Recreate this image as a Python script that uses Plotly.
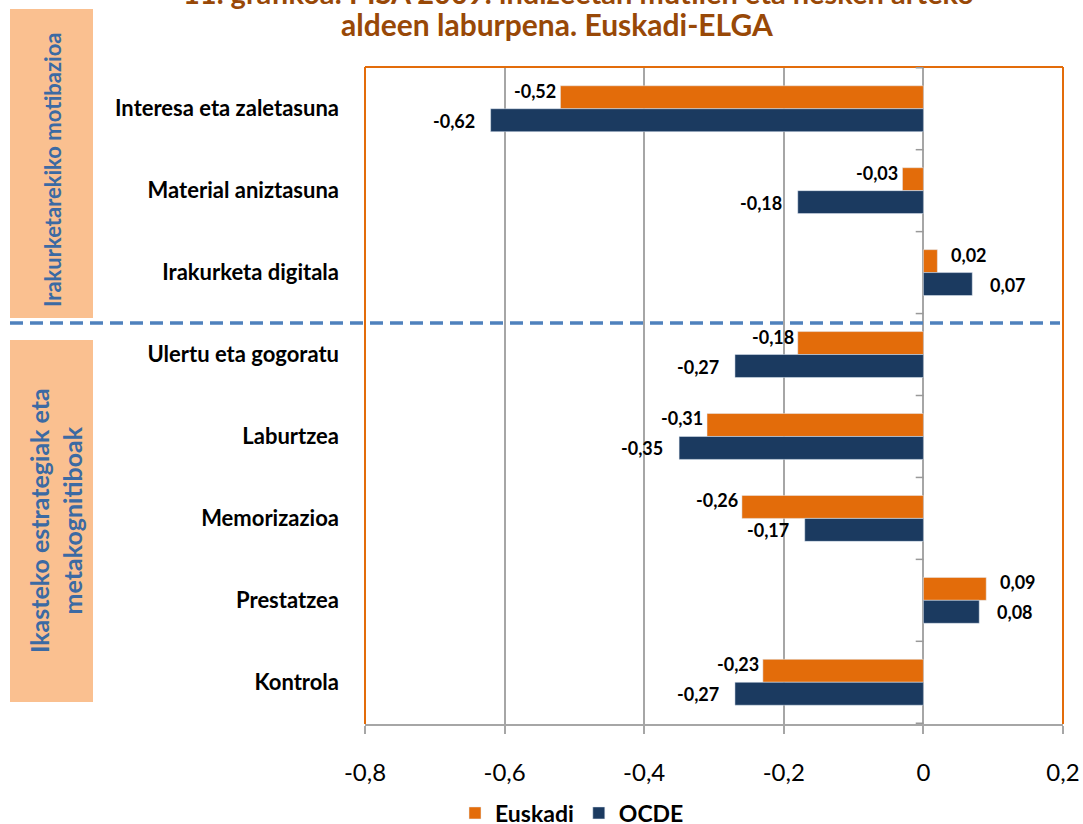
import plotly.graph_objects as go

categories = ["Interesa eta zaletasuna", "Material aniztasuna", "Irakurketa digitala",
              "Ulertu eta gogoratu", "Laburtzea", "Memorizazioa", "Prestatzea", "Kontrola"]
euskadi = [-0.52, -0.03, 0.02, -0.18, -0.31, -0.26, 0.09, -0.23]
ocde = [-0.62, -0.18, 0.07, -0.27, -0.35, -0.17, 0.08, -0.27]
x_tickvals = [-0.8, -0.6, -0.4, -0.2, 0, 0.2]
x_ticktext = ["-0,8", "-0,6", "-0,4", "-0,2", "0", "0,2"]
group_labels = ["Irakurketarekiko motibazioa", "Ikasteko estrategiak eta<br>metakognitiboak"]
title_line1 = "11. grafikoa: PISA 2009: indizeetan mutilen eta nesken arteko"
title_line2 = "aldeen laburpena. Euskadi-ELGA"

ORANGE = "#E36C0A"
NAVY = "#1B3A60"
FONT = "Lato"

W, H = 1083, 824
L, T, PW, PH = 365, 67, 698, 657


def px_x(p):
    return (p - L) / PW


def px_y(p):
    return (T + PH - p) / PH


fig = go.Figure()
fig.add_trace(go.Bar(y=categories, x=euskadi, orientation="h", name="<b>Euskadi</b>",
                     marker=dict(color=ORANGE)))
fig.add_trace(go.Bar(y=categories, x=ocde, orientation="h", name="<b>OCDE</b>",
                     marker=dict(color=NAVY)))


def fmt(v):
    return ("%.2f" % v).replace(".", ",")


annotations = []
for cat, v in zip(categories, euskadi):
    annotations.append(dict(x=v, y=cat, xref="x", yref="y", text="<b>%s</b>" % fmt(v),
                            showarrow=False, xanchor="right" if v < 0 else "left",
                            xshift=-2 if v < 0 else 12, yshift=18,
                            font=dict(family=FONT, size=18, color="black")))
for cat, v in zip(categories, ocde):
    annotations.append(dict(x=v, y=cat, xref="x", yref="y", text="<b>%s</b>" % fmt(v),
                            showarrow=False, xanchor="right" if v < 0 else "left",
                            xshift=-14 if v < 0 else 16, yshift=-12,
                            font=dict(family=FONT, size=18, color="black")))

# title (first line partly cut off at the top, as in the reference)
annotations.append(dict(x=px_x(578), y=px_y(-8), xref="paper", yref="paper", text="<b>%s</b>" % title_line1,
                        showarrow=False, xanchor="center", yanchor="middle",
                        font=dict(family=FONT, size=29, color="#984807")))
annotations.append(dict(x=px_x(557), y=px_y(24), xref="paper", yref="paper", text="<b>%s</b>" % title_line2,
                        showarrow=False, xanchor="center", yanchor="middle",
                        font=dict(family=FONT, size=30, color="#984807")))

# group labels in the left boxes
annotations.append(dict(x=px_x(52), y=px_y(170), xref="paper", yref="paper",
                        xanchor="center", yanchor="middle",
                        text="<b>%s</b>" % group_labels[0], showarrow=False, textangle=-90,
                        font=dict(family=FONT, size=22, color="#3C6AA3")))
annotations.append(dict(x=px_x(55), y=px_y(521), xref="paper", yref="paper",
                        xanchor="center", yanchor="middle",
                        text="<b>%s</b>" % group_labels[1], showarrow=False, textangle=-90,
                        font=dict(family=FONT, size=25, color="#3C6AA3")))

shapes = [
    # left boxes
    dict(type="rect", xref="paper", yref="paper", x0=px_x(10), x1=px_x(93), y0=px_y(318), y1=px_y(9),
         fillcolor="#FAC090", line=dict(width=0), layer="below"),
    dict(type="rect", xref="paper", yref="paper", x0=px_x(10), x1=px_x(93), y0=px_y(702), y1=px_y(340),
         fillcolor="#FAC090", line=dict(width=0), layer="below"),
    # plot border (left, top, right)
    dict(type="line", xref="paper", yref="paper", x0=0, x1=0, y0=0, y1=1, line=dict(color=ORANGE, width=2)),
    dict(type="line", xref="paper", yref="paper", x0=0, x1=1, y0=1, y1=1, line=dict(color=ORANGE, width=2)),
    dict(type="line", xref="paper", yref="paper", x0=1, x1=1, y0=0, y1=1, line=dict(color=ORANGE, width=2)),
    # dashed separator
    dict(type="line", xref="paper", yref="paper", x0=px_x(10), x1=px_x(1060), y0=px_y(323), y1=px_y(323),
         line=dict(color="#4F81BD", width=3.5, dash="13px,7px")),
]
# small category tick marks at the zero axis
for i in range(len(categories) + 1):
    shapes.append(dict(type="line", xref="x", yref="y", x0=-0.011, x1=0, y0=i - 0.5, y1=i - 0.5,
                       line=dict(color="#999999", width=1.5)))

fig.update_layout(
    width=W, height=H,
    margin=dict(l=L, r=W - L - PW, t=T, b=H - T - PH, autoexpand=False),
    plot_bgcolor="white", paper_bgcolor="white",
    barmode="group", bargap=0.44, bargroupgap=0,
    showlegend=True,
    legend=dict(orientation="h", x=px_x(572), y=px_y(813), xanchor="center", yanchor="middle",
                font=dict(family=FONT, size=23, color="black"), traceorder="normal",
                itemwidth=30),
    font=dict(family=FONT, color="black"),
    annotations=annotations,
    shapes=shapes,
)
fig.update_xaxes(range=[-0.8, 0.2], tickvals=x_tickvals, ticktext=x_ticktext,
                 showgrid=True, gridcolor="#A6A6A6", gridwidth=1.5, zeroline=False,
                 showline=True, linecolor="#A6A6A6", linewidth=2,
                 ticks="outside", ticklen=8, tickcolor="#A6A6A6", tickwidth=2,
                 ticklabelstandoff=18, tickfont=dict(family=FONT, size=24, color="black"))
fig.update_yaxes(autorange="reversed", showgrid=False, zeroline=False, showline=False,
                 ticks="", ticklabelstandoff=25,
                 tickfont=dict(family=FONT, size=22, color="black"),
                 tickvals=categories, ticktext=["<b>%s</b>" % c for c in categories])

fig.write_html("out.html", config={"displayModeBar": False},
               post_script="document.body.style.margin='0';")
